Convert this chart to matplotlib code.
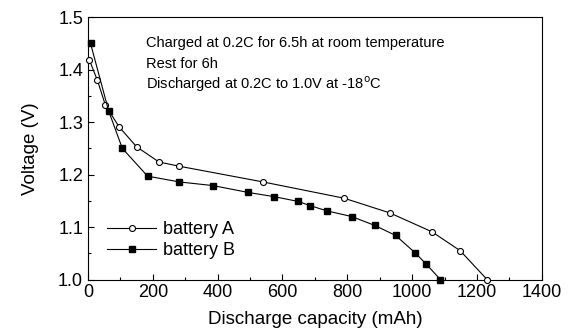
import matplotlib
matplotlib.use('Agg')
import matplotlib.pyplot as plt
from matplotlib.ticker import MultipleLocator

plt.rcParams['font.family'] = ['Liberation Sans', 'DejaVu Sans']

# battery A (open circles)
cap_a = [4, 29, 54, 96, 150, 219, 281, 540, 790, 931, 1061, 1148, 1231]
volt_a = [1.419, 1.380, 1.332, 1.291, 1.253, 1.224, 1.216, 1.186, 1.155, 1.127, 1.091, 1.055, 1.0]
# battery B (filled squares)
cap_b = [8, 64, 106, 184, 282, 386, 494, 574, 647, 685, 736, 814, 885, 949, 1009, 1044, 1087]
volt_b = [1.450, 1.321, 1.250, 1.197, 1.186, 1.179, 1.166, 1.158, 1.149, 1.141, 1.131,
          1.120, 1.103, 1.084, 1.051, 1.029, 1.0]

notes = ['Charged at 0.2C for 6.5h at room temperature',
         'Rest for 6h',
         'Discharged at 0.2C to 1.0V at -18$^{\\rm o}$C']

fig = plt.figure(figsize=(5.71, 3.36), dpi=100)
ax = fig.add_axes([0.154, 0.168, 0.795, 0.781])

ax.plot(cap_a, volt_a, '-o', color='black', lw=0.8, ms=4.3, mfc='white', mec='black',
        mew=0.8, label='battery A', clip_on=False, zorder=3)
ax.plot(cap_b, volt_b, '-s', color='black', lw=0.8, ms=4, mfc='black', mec='black',
        label='battery B', clip_on=False, zorder=3)

ax.set_xlim(0, 1400)
ax.set_ylim(1.0, 1.5)
ax.xaxis.set_major_locator(MultipleLocator(200))
ax.xaxis.set_minor_locator(MultipleLocator(100))
ax.yaxis.set_major_locator(MultipleLocator(0.1))
ax.yaxis.set_minor_locator(MultipleLocator(0.05))
ax.yaxis.set_major_formatter(matplotlib.ticker.FormatStrFormatter('%.1f'))
ax.tick_params(which='both', direction='in', top=False, right=False, labelsize=13)
ax.tick_params(which='major', length=4, width=0.8)
ax.tick_params(which='minor', length=2.5, width=0.8)
for s in ax.spines.values():
    s.set_linewidth(0.8)

ax.set_xlabel('Discharge capacity (mAh)', fontsize=13.5, labelpad=7)
ax.set_ylabel('Voltage (V)', fontsize=13.5, labelpad=14)

for i, t in enumerate(notes):
    ax.text(0.128, 0.901 - i * 0.078, t, transform=ax.transAxes, fontsize=10.5, va='center')

ax.legend(loc='lower left', bbox_to_anchor=(0.015, 0.03), frameon=False, fontsize=13,
          handlelength=2.7, handletextpad=0.4, labelspacing=0.2, borderaxespad=0.3)

fig.savefig('out.png', dpi=100)
